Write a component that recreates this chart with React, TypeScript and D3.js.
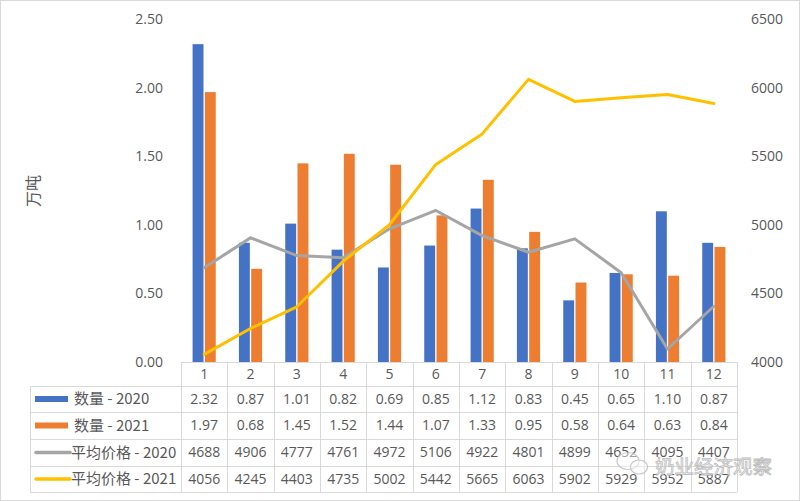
import React from "react";
import * as d3 from "d3";

const months = ["1", "2", "3", "4", "5", "6", "7", "8", "9", "10", "11", "12"];
const qty2020 = [2.32, 0.87, 1.01, 0.82, 0.69, 0.85, 1.12, 0.83, 0.45, 0.65, 1.1, 0.87];
const qty2021 = [1.97, 0.68, 1.45, 1.52, 1.44, 1.07, 1.33, 0.95, 0.58, 0.64, 0.63, 0.84];
const price2020 = [4688, 4906, 4777, 4761, 4972, 5106, 4922, 4801, 4899, 4652, 4095, 4407];
const price2021 = [4056, 4245, 4403, 4735, 5002, 5442, 5665, 6063, 5902, 5929, 5952, 5887];
const leftTicks = [0, 0.5, 1, 1.5, 2, 2.5];
const rightTicks = [4000, 4500, 5000, 5500, 6000, 6500];
const seriesNames = ["数量 - 2020", "数量 - 2021", "平均价格 - 2020", "平均价格 - 2021"];

const W = 800, H = 501;
const plotL = 181, plotR = 737, plotT = 19.5, plotB = 362;
const tableL = 30;
const rowEdges = [362, 386, 412, 439, 466, 492];
const BLUE = "#4472C4", ORANGE = "#ED7D31", GRAY = "#A5A5A5", YELLOW = "#FFC000";
const TXT = "#595959";
const FONT = "'Open Sans', 'Noto Sans CJK SC', sans-serif";
const CJK = "'Noto Sans CJK SC', sans-serif";

export default function App() {
  const x = d3.scaleBand<string>().domain(months).range([plotL, plotR]).padding(0);
  const bw = x.bandwidth();
  const inner = d3.scaleBand<string>().domain(["a", "b"]).range([-bw * 0.25, bw * 0.25]).paddingInner(0.11);
  const yL = d3.scaleLinear().domain([0, 2.5]).range([plotB, plotT]);
  const yR = d3.scaleLinear().domain([4000, 6500]).range([plotB, plotT]);
  const cx = (m: string) => (x(m) as number) + bw / 2;

  const line = d3
    .line<number>()
    .x((_, i) => cx(months[i]))
    .y((d) => yR(d));

  const rows = [qty2020.map((v) => v.toFixed(2)), qty2021.map((v) => v.toFixed(2)), price2020.map(String), price2021.map(String)];
  const colors = [BLUE, ORANGE, GRAY, YELLOW];

  return (
    <svg width={W} height={H} style={{ position: "absolute", left: 0, top: 0, background: "#fff" }}>
      <rect x={0.5} y={0.5} width={W - 1} height={H - 1} fill="#fff" stroke="#d9d9d9" />
      {leftTicks.map((t) => (
        <text key={t} x={163} y={yL(t)} dy="0.35em" textAnchor="end" fontSize={14} fill={TXT} fontFamily={FONT}>
          {t.toFixed(2)}
        </text>
      ))}
      {rightTicks.map((t) => (
        <text key={t} x={751} y={yR(t)} dy="0.35em" textAnchor="start" fontSize={14} fill={TXT} fontFamily={FONT}>
          {t}
        </text>
      ))}
      <text transform={`translate(39,191) rotate(-90)`} textAnchor="middle" fontSize={16} fill={TXT} fontFamily={CJK}>
        万吨
      </text>
      {months.map((m, i) => (
        <g key={m}>
          <rect x={cx(m) + (inner("a") as number)} y={yL(qty2020[i])} width={inner.bandwidth()} height={plotB - yL(qty2020[i])} fill={BLUE} />
          <rect x={cx(m) + (inner("b") as number)} y={yL(qty2021[i])} width={inner.bandwidth()} height={plotB - yL(qty2021[i])} fill={ORANGE} />
        </g>
      ))}
      <path d={line(price2020) || ""} fill="none" stroke={GRAY} strokeWidth={3} strokeLinejoin="round" strokeLinecap="round" />
      <path d={line(price2021) || ""} fill="none" stroke={YELLOW} strokeWidth={3} strokeLinejoin="round" strokeLinecap="round" />
      <g stroke="#d9d9d9" strokeWidth={1} fill="none">
        <line x1={plotL} x2={plotR} y1={rowEdges[0] + 0.5} y2={rowEdges[0] + 0.5} />
        {rowEdges.slice(1).map((y) => (
          <line key={y} x1={tableL} x2={plotR} y1={y + 0.5} y2={y + 0.5} />
        ))}
        <line x1={tableL + 0.5} x2={tableL + 0.5} y1={rowEdges[1]} y2={rowEdges[5]} />
        {months.map((m) => (
          <line key={m} x1={Math.round(x(m) as number) + 0.5} x2={Math.round(x(m) as number) + 0.5} y1={rowEdges[0]} y2={rowEdges[5]} />
        ))}
        <line x1={plotR + 0.5} x2={plotR + 0.5} y1={rowEdges[0]} y2={rowEdges[5]} />
      </g>
      {months.map((m) => (
        <text key={m} x={cx(m)} y={(rowEdges[0] + rowEdges[1]) / 2} dy="0.35em" textAnchor="middle" fontSize={14} fill={TXT} fontFamily={FONT}>
          {m}
        </text>
      ))}
      {rows.map((r, ri) => {
        const yc = (rowEdges[ri + 1] + rowEdges[ri + 2]) / 2;
        return (
          <g key={ri}>
            {ri < 2 ? (
              <rect x={35} y={yc - 3} width={33} height={6} fill={colors[ri]} />
            ) : (
              <line x1={36} x2={70} y1={yc} y2={yc} stroke={colors[ri]} strokeWidth={3.5} strokeLinecap="round" />
            )}
            <text x={ri < 2 ? 74 : 71} y={yc} dy="0.35em" fontSize={15} fill={TXT} fontFamily={CJK}>
              {seriesNames[ri]}
            </text>
            {r.map((v, i) => (
              <text key={i} x={cx(months[i])} y={yc} dy="0.35em" textAnchor="middle" fontSize={14} fill={TXT} fontFamily={FONT}>
                {v}
              </text>
            ))}
          </g>
        );
      })}
      <g opacity={0.85}>
        <ellipse cx={628} cy={461} rx={11} ry={8.5} fill="#fff" fillOpacity={0.5} stroke="#c0c0c0" strokeWidth={1.2} />
        <ellipse cx={639} cy={467} rx={8.5} ry={7} fill="#fff" fillOpacity={0.5} stroke="#c0c0c0" strokeWidth={1.2} />
        <text x={655} y={474} fontSize={19.5} fill="#fff" stroke="#b0b0b0" strokeWidth={0.8} fontFamily={CJK}>
          奶业经济观察
        </text>
      </g>
    </svg>
  );
}
